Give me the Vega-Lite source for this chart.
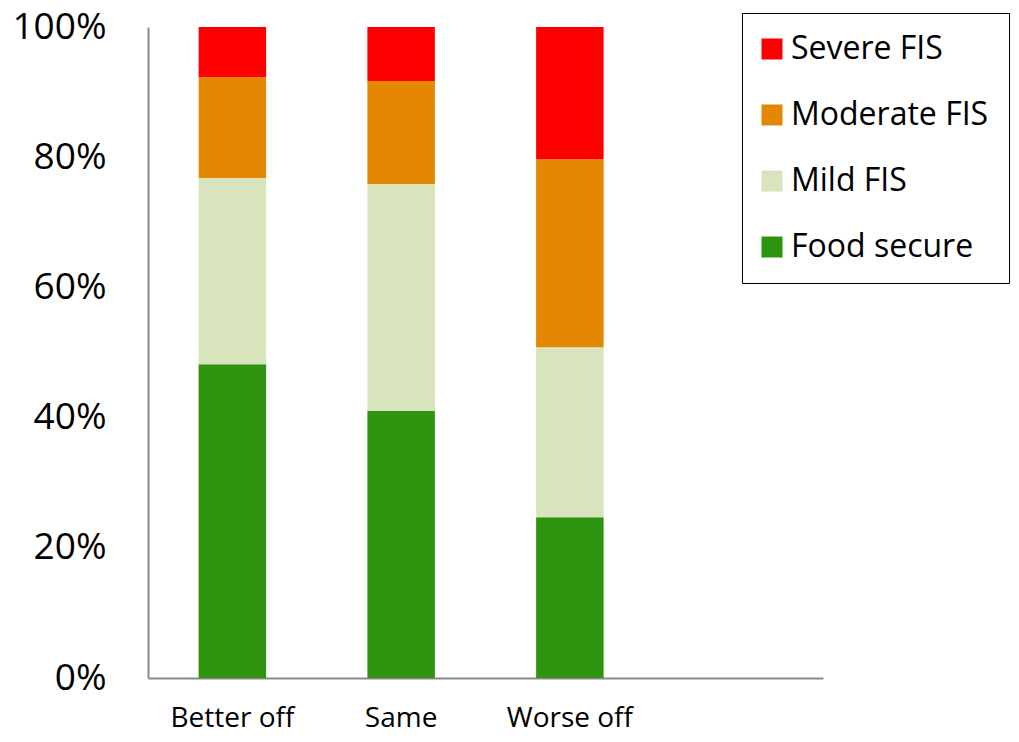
{
  "$schema": "https://vega.github.io/schema/vega-lite/v6.json",
  "width": 675,
  "height": 651,
  "autosize": {"type": "none"},
  "padding": {"left": 148, "top": 27, "right": 196, "bottom": 64},
  "background": "white",
  "config": {
    "view": {"stroke": null},
    "font": "Open Sans"
  },
  "data": {
    "values": [
      {"group": "Better off", "status": "Food secure", "level": 1, "share": 48.2},
      {"group": "Better off", "status": "Mild FIS", "level": 2, "share": 28.6},
      {"group": "Better off", "status": "Moderate FIS", "level": 3, "share": 15.5},
      {"group": "Better off", "status": "Severe FIS", "level": 4, "share": 7.7},
      {"group": "Same", "status": "Food secure", "level": 1, "share": 41.0},
      {"group": "Same", "status": "Mild FIS", "level": 2, "share": 34.9},
      {"group": "Same", "status": "Moderate FIS", "level": 3, "share": 15.8},
      {"group": "Same", "status": "Severe FIS", "level": 4, "share": 8.3},
      {"group": "Worse off", "status": "Food secure", "level": 1, "share": 24.7},
      {"group": "Worse off", "status": "Mild FIS", "level": 2, "share": 26.1},
      {"group": "Worse off", "status": "Moderate FIS", "level": 3, "share": 28.9},
      {"group": "Worse off", "status": "Severe FIS", "level": 4, "share": 20.3}
    ]
  },
  "mark": {"type": "bar"},
  "encoding": {
    "x": {
      "field": "group",
      "type": "nominal",
      "scale": {
        "domain": ["Better off", "Same", "Worse off", " "],
        "paddingInner": 0.6,
        "paddingOuter": 0.3
      },
      "axis": {
        "title": null,
        "labelAngle": 0,
        "ticks": false,
        "domainColor": "#898989",
        "domainWidth": 2,
        "labelFontSize": 28,
        "labelColor": "#000000",
        "labelPadding": 26,
        "labelBaseline": "top"
      }
    },
    "y": {
      "field": "share",
      "type": "quantitative",
      "stack": "normalize",
      "scale": {"domain": [0, 1], "nice": false},
      "axis": {
        "title": null,
        "values": [0, 0.2, 0.4, 0.6, 0.8, 1],
        "format": ".0%",
        "grid": false,
        "ticks": false,
        "domainColor": "#898989",
        "domainWidth": 2,
        "labelFontSize": 37,
        "labelColor": "#000000",
        "labelPadding": 42,
        "labelBaseline": "middle"
      }
    },
    "color": {
      "field": "status",
      "type": "nominal",
      "scale": {
        "domain": ["Severe FIS", "Moderate FIS", "Mild FIS", "Food secure"],
        "range": ["#FF0000", "#E38800", "#D8E4BC", "#2E930F"]
      },
      "legend": {
        "title": null,
        "orient": "none",
        "legendX": 594,
        "legendY": -14,
        "symbolType": "square",
        "symbolSize": 441,
        "symbolStrokeWidth": 0,
        "symbolOffset": -6,
        "labelFontSize": 32,
        "labelLimit": 0,
        "labelColor": "#000000",
        "labelOffset": 3,
        "rowPadding": 34,
        "padding": 20,
        "strokeColor": "#000000",
        "fillColor": "white"
      }
    },
    "order": {"field": "level", "type": "quantitative", "sort": "ascending"}
  }
}
